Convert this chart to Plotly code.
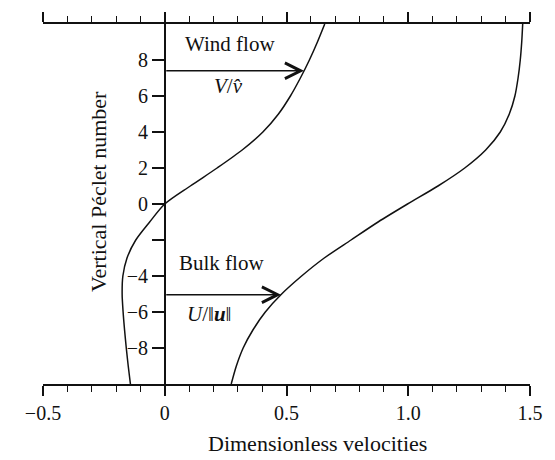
import numpy as np
import plotly.graph_objects as go

# Vertical Péclet number (y) and dimensionless velocities (x)
peclet = [-10, -9, -8, -7, -6, -5, -4, -3, -2, -1, 0, 1, 2, 3, 4, 5, 6, 7, 8, 9, 10]
wind_v = [-0.141, -0.150, -0.158, -0.165, -0.171, -0.175, -0.172, -0.155, -0.119, -0.062, 0.0,
          0.105, 0.215, 0.318, 0.403, 0.467, 0.516, 0.557, 0.594, 0.627, 0.657]
bulk_u = [0.273, 0.294, 0.322, 0.362, 0.413, 0.480, 0.562, 0.655, 0.765, 0.876, 0.997,
          1.122, 1.232, 1.318, 1.378, 1.415, 1.438, 1.451, 1.460, 1.466, 1.470]

x_tickvals = [-0.5, 0, 0.5, 1.0, 1.5]
x_ticktext = ["\u22120.5", "0", "0.5", "1.0", "1.5"]
y_tickvals = [-8, -6, -4, -2, 0, 2, 4, 6, 8]
y_ticktext = ["\u22128", "\u22126", "\u22124", "", "0", "2", "4", "6", "8"]

wind_arrow_y = 7.4
bulk_arrow_y = -5.04

FONT = "Liberation Serif"
BLACK = "#111111"

fig = go.Figure()
fig.add_trace(go.Scatter(x=wind_v, y=peclet, mode="lines",
                         line=dict(color=BLACK, width=1.5, shape="spline", smoothing=0.8),
                         name="V/v", showlegend=False, hoverinfo="skip"))
fig.add_trace(go.Scatter(x=bulk_u, y=peclet, mode="lines",
                         line=dict(color=BLACK, width=1.5, shape="spline", smoothing=0.8),
                         name="U/|u|", showlegend=False, hoverinfo="skip"))

wind_tip = float(np.interp(wind_arrow_y, peclet, wind_v))
bulk_tip = float(np.interp(bulk_arrow_y, peclet, bulk_u))

arrow_common = dict(showarrow=True, arrowhead=5, arrowsize=2.2, arrowwidth=1.4,
                    arrowcolor=BLACK, axref="x", ayref="y", xref="x", yref="y", text="")
annotations = [
    dict(x=wind_tip, y=wind_arrow_y, ax=0, ay=wind_arrow_y, **arrow_common),
    dict(x=bulk_tip, y=bulk_arrow_y, ax=0, ay=bulk_arrow_y, **arrow_common),
    dict(x=0.268, y=8.9, xref="x", yref="y", text="Wind flow", showarrow=False,
         font=dict(family=FONT, size=21, color=BLACK)),
    dict(x=0.261, y=6.55, xref="x", yref="y", text="<i>V</i>/<i>v\u0302</i>", showarrow=False,
         font=dict(family=FONT, size=21, color=BLACK)),
    dict(x=0.232, y=-3.3, xref="x", yref="y", text="Bulk flow", showarrow=False,
         font=dict(family=FONT, size=21, color=BLACK)),
    dict(x=0.185, y=-6.12, xref="x", yref="y", text="<i>U</i>/\u2016<b><i>u</i></b>\u2016",
         showarrow=False, font=dict(family=FONT, size=21, color=BLACK)),
    dict(x=0.1124, y=0.5355, xref="paper", yref="paper", text="Vertical Péclet number",
         textangle=-90, showarrow=False, xanchor="center", yanchor="middle",
         font=dict(family=FONT, size=22, color=BLACK)),
    dict(x=0.564, y=-0.165, xref="paper", yref="paper", text="Dimensionless velocities",
         showarrow=False, xanchor="center", yanchor="middle",
         font=dict(family=FONT, size=22, color=BLACK)),
]

fig.update_layout(
    width=555, height=460,
    margin=dict(l=43, r=14, t=18, b=76),
    paper_bgcolor="white", plot_bgcolor="white",
    font=dict(family=FONT, size=20, color=BLACK),
    showlegend=False,
    annotations=annotations,
    xaxis=dict(range=[-0.5, 1.5], tickmode="array", tickvals=x_tickvals, ticktext=x_ticktext,
               ticks="outside", ticklen=10, tickwidth=1.5, tickcolor=BLACK,
               showline=True, linewidth=1.8, linecolor=BLACK, mirror="ticks",
               showgrid=False, zeroline=False,
               tickfont=dict(family=FONT, size=20, color=BLACK),
               minor=dict(tickmode="linear", tick0=-0.5, dtick=0.1, ticks="outside",
                          ticklen=6, tickwidth=1.2, tickcolor=BLACK, showgrid=False)),
    yaxis=dict(range=[-10, 10], anchor="free", position=0.25,
               tickmode="array", tickvals=y_tickvals, ticktext=y_ticktext,
               ticks="outside", ticklen=12, tickwidth=1.5, tickcolor=BLACK,
               showline=True, linewidth=1.5, linecolor=BLACK,
               showgrid=False, zeroline=False,
               tickfont=dict(family=FONT, size=20, color=BLACK)),
)

fig.write_html("out.html")
